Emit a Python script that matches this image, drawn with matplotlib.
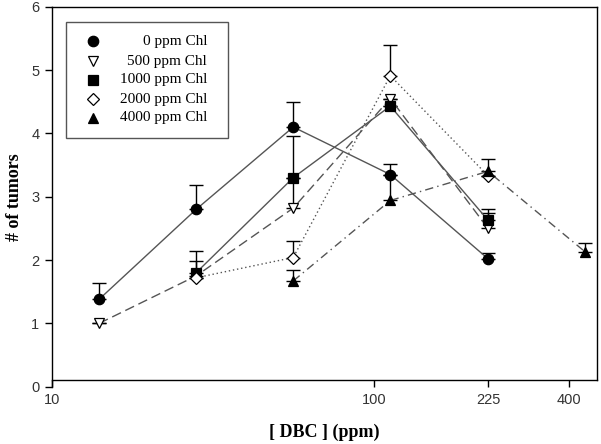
#!/usr/bin/env python3
"""Tumor count vs DBC dose for several chlorophyllin levels."""

import matplotlib

matplotlib.use("Agg")
import matplotlib.pyplot as plt
import numpy as np
from matplotlib.patches import Rectangle
from matplotlib.ticker import FixedLocator, NullLocator

chl_0_x = [14, 28, 56, 112, 225]
chl_0_y = [1.38, 2.80, 4.10, 3.35, 2.02]
chl_0_err = [0.26, 0.38, 0.40, 0.17, 0.09]

chl_500_x = [14, 28, 56, 112, 225]
chl_500_y = [1.00, 1.75, 2.82, 4.55, 2.50]
chl_500_err = [0.0, 0.24, 1.14, 0.0, 0.24]

chl_1000_x = [28, 56, 112, 225]
chl_1000_y = [1.80, 3.30, 4.43, 2.63]
chl_1000_err = [0.35, 0.0, 0.0, 0.17]

chl_2000_x = [28, 56, 112, 225]
chl_2000_y = [1.72, 2.04, 4.91, 3.33]
chl_2000_err = [0.0, 0.26, 0.49, 0.0]

chl_4000_x = [56, 112, 225, 450]
chl_4000_y = [1.67, 2.94, 3.40, 2.13]
chl_4000_err = [0.18, 0.41, 0.19, 0.14]

legend_labels = ["0 ppm Chl", "500 ppm Chl", "1000 ppm Chl", "2000 ppm Chl", "4000 ppm Chl"]
x_ticks = [10, 100, 225, 400]
y_ticks = [0, 1, 2, 3, 4, 5, 6]

LINE = "#555555"
W, H = 601, 444


def px(x, y):
    """pixel position (from top-left) -> figure fraction"""
    return x / W, 1 - y / H


def draw_series(ax, x, y, err, marker, filled, dashes, ms=7):
    lo = np.zeros(len(err))
    ax.errorbar(x, y, yerr=[lo, err], fmt="none", ecolor="black",
                elinewidth=1.0, capsize=5, capthick=1.0, zorder=2)
    line, = ax.plot(x, y, color=LINE, linewidth=1.0, zorder=3)
    if dashes:
        line.set_dashes(dashes)
    ax.plot(x, y, linestyle="none", marker=marker, markersize=ms,
            markerfacecolor="black" if filled else "white",
            markeredgecolor="black", markeredgewidth=0.9, zorder=4)


fig = plt.figure(figsize=(6.01, 4.44), dpi=100)
ax = fig.add_axes([0.0865, 0.129, 0.9068, 0.856])

styles = [
    ("o", True, None, 7.5),
    ("v", False, (7, 3.5), 7.5),
    ("s", True, None, 7),
    ("D", False, (1, 2), 6.5),
    ("^", True, (6, 3, 1, 3), 7.5),
]
series = [
    (chl_0_x, chl_0_y, chl_0_err),
    (chl_500_x, chl_500_y, chl_500_err),
    (chl_1000_x, chl_1000_y, chl_1000_err),
    (chl_2000_x, chl_2000_y, chl_2000_err),
    (chl_4000_x, chl_4000_y, chl_4000_err),
]
for (x, y, err), (marker, filled, dashes, ms) in zip(series, styles):
    draw_series(ax, x, y, err, marker, filled, dashes, ms)

ax.set_xscale("log")
ax.set_xlim(10, 490)
ax.set_ylim(0, 6)
ax.xaxis.set_major_locator(FixedLocator(x_ticks))
ax.xaxis.set_minor_locator(NullLocator())
ax.set_xticklabels([str(t) for t in x_ticks])
ax.set_yticks(y_ticks)

ax.spines["bottom"].set_position(("data", 0.1))
ax.spines["right"].set_bounds(0.1, 6)
for side in ["left", "bottom", "top", "right"]:
    ax.spines[side].set_linewidth(1.0)
ax.tick_params(direction="out", length=5, width=1.0, labelsize=10.5,
               labelcolor="#333333", pad=4)
for lab in ax.get_xticklabels() + ax.get_yticklabels():
    lab.set_family("Liberation Sans")

ax.set_xlabel("[ DBC ] (ppm)", family="Liberation Serif", fontweight="bold",
              fontsize=13, labelpad=12)
ax.set_ylabel("# of tumors", family="Liberation Serif", fontweight="bold",
              fontsize=13, labelpad=6)

# legend drawn by hand: markers on the left, labels right-aligned
x0, y0 = px(66, 138)
x1, y1 = px(228, 22)
fig.patches.append(Rectangle((x0, y0), x1 - x0, y1 - y0, transform=fig.transFigure,
                             facecolor="white", edgecolor="#555555", linewidth=1.0,
                             zorder=5))
rows = [41, 61, 80, 99, 118]
for row, label, (marker, filled, dashes, ms) in zip(rows, legend_labels, styles):
    mx, my = px(93, row)
    fig.add_artist(plt.Line2D([mx], [my], transform=fig.transFigure, marker=marker,
                              markersize=ms, linestyle="none",
                              markerfacecolor="black" if filled else "white",
                              markeredgecolor="black", markeredgewidth=0.9, zorder=6))
    tx, ty = px(207, row)
    fig.text(tx, ty, label, ha="right", va="center", family="Liberation Serif",
             fontsize=11, zorder=6)

fig.savefig("out.png", dpi=100)
